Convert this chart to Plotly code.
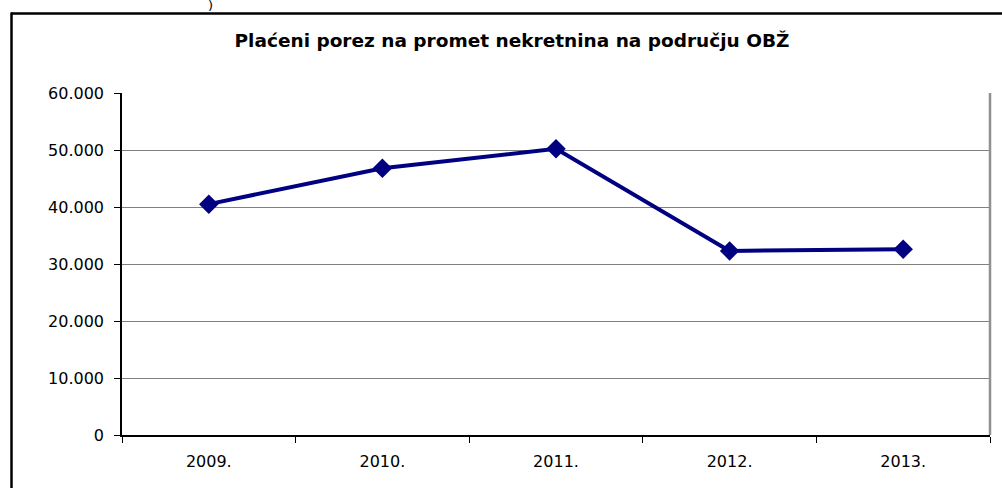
import plotly.graph_objects as go

years = ["2009.", "2010.", "2011.", "2012.", "2013."]
porez = [40500, 46800, 50200, 32300, 32600]
title_text = "Plaćeni porez na promet nekretnina na području OBŽ"

W, H = 1002, 488
L, R, T, B = 122, 12, 93, 53
pw, ph = W - L - R, H - T - B

def px_x(x):
    return (x - L) / pw

def px_y(y):
    return (H - B - y) / ph

fig = go.Figure()
fig.add_trace(go.Scatter(
    x=years, y=porez, mode="lines+markers",
    line=dict(color="#000080", width=4),
    marker=dict(symbol="diamond", size=15, color="#000080"),
    showlegend=False, cliponaxis=False,
))

fig.update_layout(
    width=W, height=H,
    margin=dict(l=L, r=R, t=T, b=B),
    paper_bgcolor="white", plot_bgcolor="white",
    separators=",.",
    font=dict(family="DejaVu Sans, Liberation Sans, Arial, sans-serif", size=16, color="black"),
    title=dict(text="<b>" + title_text + "</b>", x=px_x(512), xref="paper", xanchor="center",
               y=1 - 41 / H, yanchor="middle", font=dict(size=18.5, color="black")),
    xaxis=dict(type="category", tickson="boundaries", ticks="outside", ticklen=6,
               tickcolor="black", showline=True, linecolor="black", linewidth=1.5,
               showgrid=False, range=[-0.5, 4.5], ticklabelstandoff=11),
    yaxis=dict(range=[0, 60000], dtick=10000, tickformat=",d", ticks="outside",
               ticklen=6, tickcolor="black", showline=True, linecolor="black",
               linewidth=1.5, showgrid=True, gridcolor="#808080", gridwidth=1,
               zeroline=False, ticklabelstandoff=7),
    shapes=[
        dict(type="line", xref="paper", yref="paper", x0=1, x1=1, y0=0, y1=1,
             line=dict(color="#909090", width=2.5)),
        dict(type="line", xref="paper", yref="paper", x0=px_x(11), x1=px_x(1005),
             y0=px_y(13.5), y1=px_y(13.5), line=dict(color="black", width=2.5)),
        dict(type="line", xref="paper", yref="paper", x0=px_x(11.5), x1=px_x(11.5),
             y0=px_y(12.5), y1=px_y(492), line=dict(color="black", width=2.5)),
    ],
    annotations=[
        dict(text=")", xref="paper", yref="paper", x=px_x(210), y=px_y(5),
             xanchor="center", yanchor="middle", showarrow=False,
             font=dict(size=13, color="black")),
    ],
)

fig.write_html("out.html", config={"displayModeBar": False},
               post_script="document.body.style.margin='0';")
